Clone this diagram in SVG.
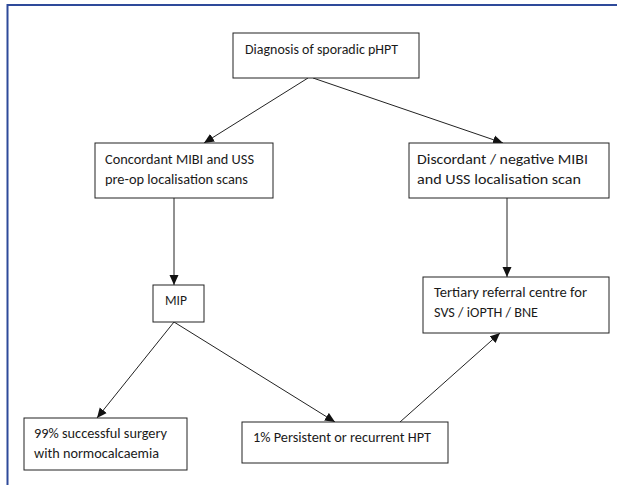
<svg xmlns="http://www.w3.org/2000/svg" width="617" height="485" viewBox="0 0 617 485">
<style>
.box{fill:#fff;stroke:#222;stroke-width:1}
.t{font-family:Carlito,"Liberation Sans",Arial,sans-serif;font-size:14.5px;fill:#1a1a1a}
.c{fill:none;stroke:#222;stroke-width:1}
.frame{fill:none;stroke:#2e4a9a;stroke-width:2}
</style>
<defs>
<marker id="ah" markerUnits="userSpaceOnUse" markerWidth="10" markerHeight="10" viewBox="0 0 10 10" refX="10" refY="5" orient="auto">
<path d="M0,0.5 L10,5 L0,9.5 z" fill="#111"/>
</marker>
</defs>
<rect width="617" height="485" fill="#fff"/>
<path class="frame" d="M7.5,485 V5 H617"/>
<g id="connectors">
<line class="c" x1="308" y1="78" x2="204" y2="143" marker-end="url(#ah)"/>
<line class="c" x1="313" y1="78" x2="503" y2="143" marker-end="url(#ah)"/>
<line class="c" x1="174" y1="198" x2="174" y2="285" marker-end="url(#ah)"/>
<line class="c" x1="507" y1="198" x2="507" y2="277" marker-end="url(#ah)"/>
<line class="c" x1="174" y1="322" x2="97" y2="418" marker-end="url(#ah)"/>
<line class="c" x1="174" y1="322" x2="335" y2="422" marker-end="url(#ah)"/>
<line class="c" x1="400" y1="422" x2="500" y2="333" marker-end="url(#ah)"/>
</g>
<g id="diagnosis">
<rect class="box" x="233" y="33" width="186" height="45"/>
<text class="t" x="245" y="54" textLength="153" lengthAdjust="spacingAndGlyphs">Diagnosis of sporadic pHPT</text>
</g>
<g id="concordant">
<rect class="box" x="95" y="143" width="178" height="55"/>
<text class="t" x="105" y="164" textLength="149" lengthAdjust="spacingAndGlyphs">Concordant MIBI and USS</text>
<text class="t" x="105" y="184" textLength="143" lengthAdjust="spacingAndGlyphs">pre-op localisation scans</text>
</g>
<g id="discordant">
<rect class="box" x="409" y="143" width="200" height="55"/>
<text class="t" x="417" y="164" textLength="171" lengthAdjust="spacingAndGlyphs">Discordant / negative MIBI</text>
<text class="t" x="417" y="184" textLength="164" lengthAdjust="spacingAndGlyphs">and USS localisation scan</text>
</g>
<g id="mip">
<rect class="box" x="153" y="285" width="51" height="37"/>
<text class="t" x="165" y="305" textLength="22" lengthAdjust="spacingAndGlyphs">MIP</text>
</g>
<g id="tertiary">
<rect class="box" x="423" y="277" width="186" height="56"/>
<text class="t" x="434" y="297" textLength="153" lengthAdjust="spacingAndGlyphs">Tertiary referral centre for</text>
<text class="t" x="434" y="317" textLength="104" lengthAdjust="spacingAndGlyphs">SVS / iOPTH / BNE</text>
</g>
<g id="success">
<rect class="box" x="24" y="418" width="163" height="52"/>
<text class="t" x="34" y="438" textLength="133" lengthAdjust="spacingAndGlyphs">99% successful surgery</text>
<text class="t" x="34" y="458" textLength="125" lengthAdjust="spacingAndGlyphs">with normocalcaemia</text>
</g>
<g id="persistent">
<rect class="box" x="242" y="422" width="206" height="41"/>
<text class="t" x="253" y="442" textLength="178" lengthAdjust="spacingAndGlyphs">1% Persistent or recurrent HPT</text>
</g>
</svg>
